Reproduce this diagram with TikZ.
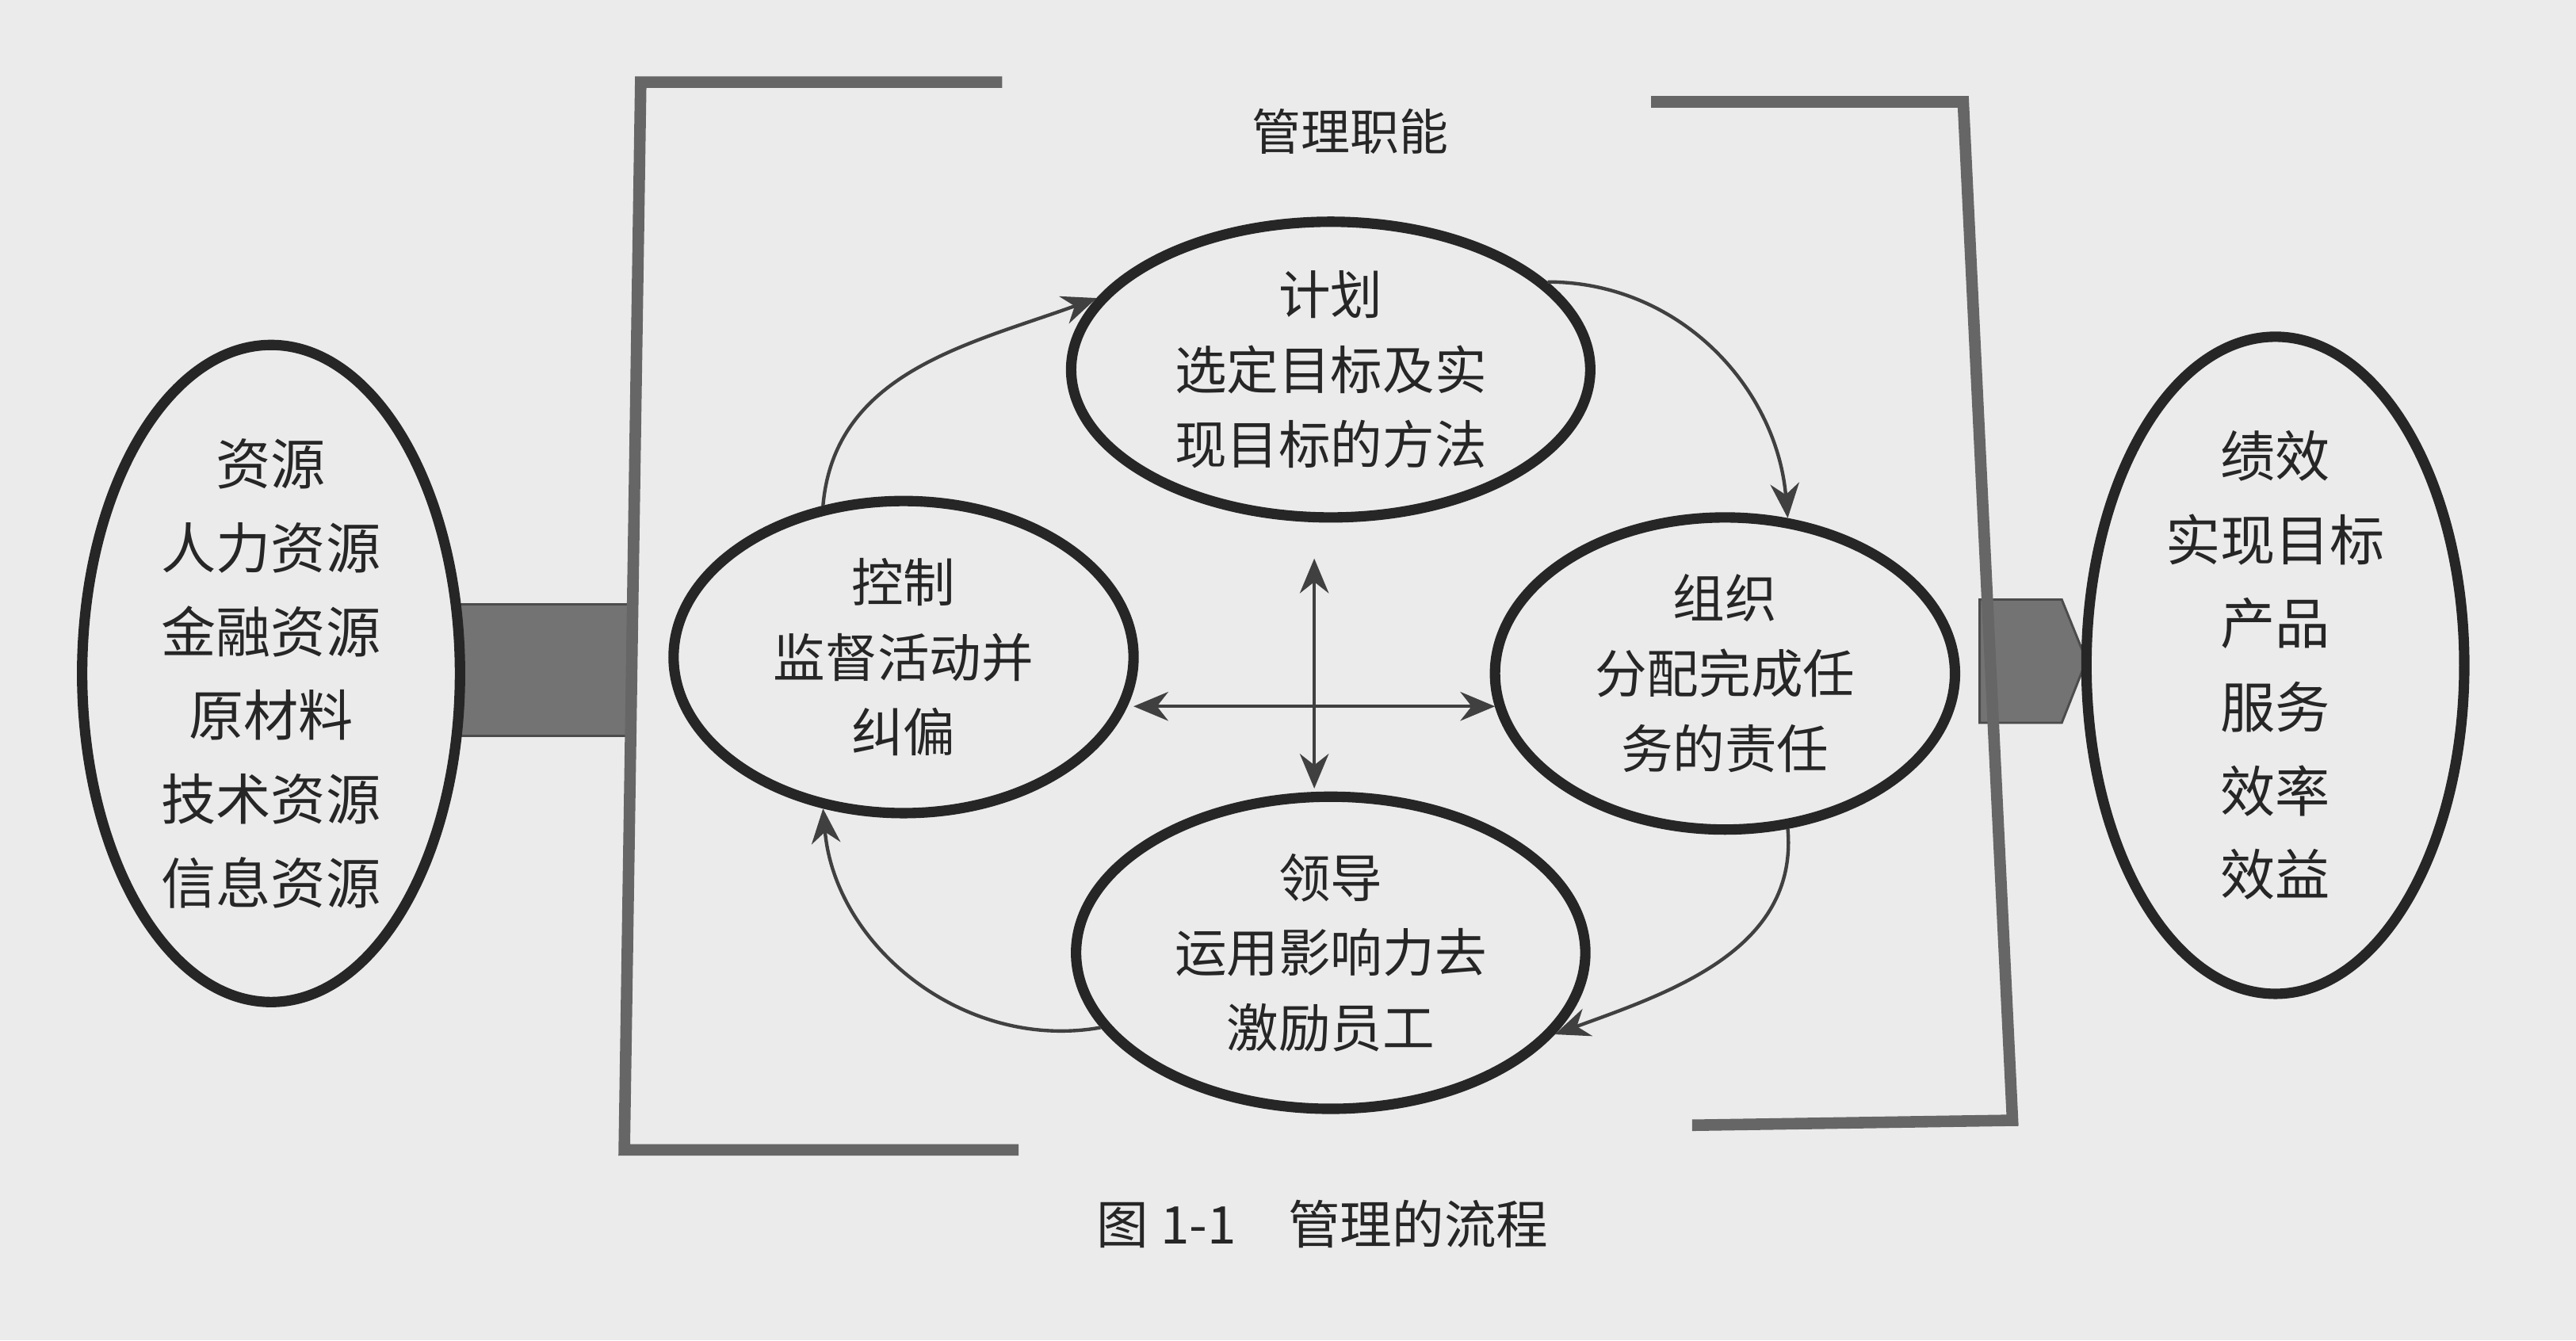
\documentclass[tikz,border=0pt]{standalone}
\usepackage{fontspec}
\setmainfont{Noto Sans CJK SC}
\usetikzlibrary{shapes.geometric,arrows.meta}
\begin{document}
\begin{tikzpicture}[x=0.01cm,y=-0.01cm,
  ell/.style 2 args={ellipse,draw=black!85,line width=1.8pt,inner sep=0pt,minimum width=#1*0.01cm,minimum height=#2*0.01cm},
  txt/.style={align=center,font=\fontsize{8.5}{10.5}\selectfont,text=black!85},
  brk/.style={draw=black!60,line width=2pt},
  flow/.style={draw=black!75,line width=0.6pt,-{Stealth[length=6pt,width=5pt]}},
  dbl/.style={draw=black!75,line width=0.6pt,{Stealth[length=6pt,width=5pt]}-{Stealth[length=6pt,width=5pt]}}]
\fill[black!8] (0,0) rectangle (1568,816);
\useasboundingbox (0,0) rectangle (1568,816);
% connectors
\node[fill=black!55,draw=black!70,minimum width=1.07cm,minimum height=0.8cm,inner sep=0pt] (lbar) at (331,408) {};
\fill[black!55,draw=black!70] (1205,365) -- (1255,365) -- (1270,402) -- (1255,440) -- (1205,440) -- cycle;
% outer ellipses
\node[ell={230}{400},fill=black!8] (res) at (165,410) {};
\node[txt,font=\fontsize{9.5}{14.5}\selectfont] (rest) at (165,410) {资源\\人力资源\\金融资源\\原材料\\技术资源\\信息资源};
\node[ell={230}{400},fill=black!8] (perf) at (1385,405) {};
\node[txt,font=\fontsize{9.5}{14.5}\selectfont] (perft) at (1385,405) {绩效\\实现目标\\产品\\服务\\效率\\效益};
% brackets
\draw[brk] (610,50) -- (390,50) -- (380,700) -- (620,700);
\draw[brk] (1005,62) -- (1195,62) -- (1225,682) -- (1030,685);
\node[txt,font=\fontsize{8.5}{10}\selectfont] (title) at (822,80) {管理职能};
% function ellipses
\node[ell={316}{180}] (plan) at (810,225) {};
\node[txt,font=\fontsize{9}{13}\selectfont] at (810,225) {计划\\选定目标及实\\现目标的方法};
\node[ell={280}{190}] (org) at (1050,410) {};
\node[txt,font=\fontsize{9}{13}\selectfont] at (1050,410) {组织\\分配完成任\\务的责任};
\node[ell={280}{190}] (ctrl) at (550,400) {};
\node[txt,font=\fontsize{9}{13}\selectfont] at (550,400) {控制\\监督活动并\\纠偏};
\node[ell={310}{190}] (lead) at (810,580) {};
\node[txt,font=\fontsize{9}{13}\selectfont] at (810,580) {领导\\运用影响力去\\激励员工};
% cycle arrows
\draw[flow] (ctrl.118) to[out=85,in=200] (plan.163);
\draw[flow] (plan.22) to[out=0,in=95] (org.68);
\draw[flow] (org.292) to[out=-85,in=20] (lead.340);
\draw[flow] (lead.198) to[out=190,in=-85] (ctrl.242);
\coordinate (vt) at (800,340); \coordinate (vb) at (800,480);
\coordinate (hl) at (690,430); \coordinate (hr) at (910,430);
\draw[dbl] (vt) -- (vb);
\draw[dbl] (hl) -- (hr);
\node[txt,font=\fontsize{9}{11}\selectfont] (cap) at (805,745) {图 1-1\quad 管理的流程};
\end{tikzpicture}
\end{document}
